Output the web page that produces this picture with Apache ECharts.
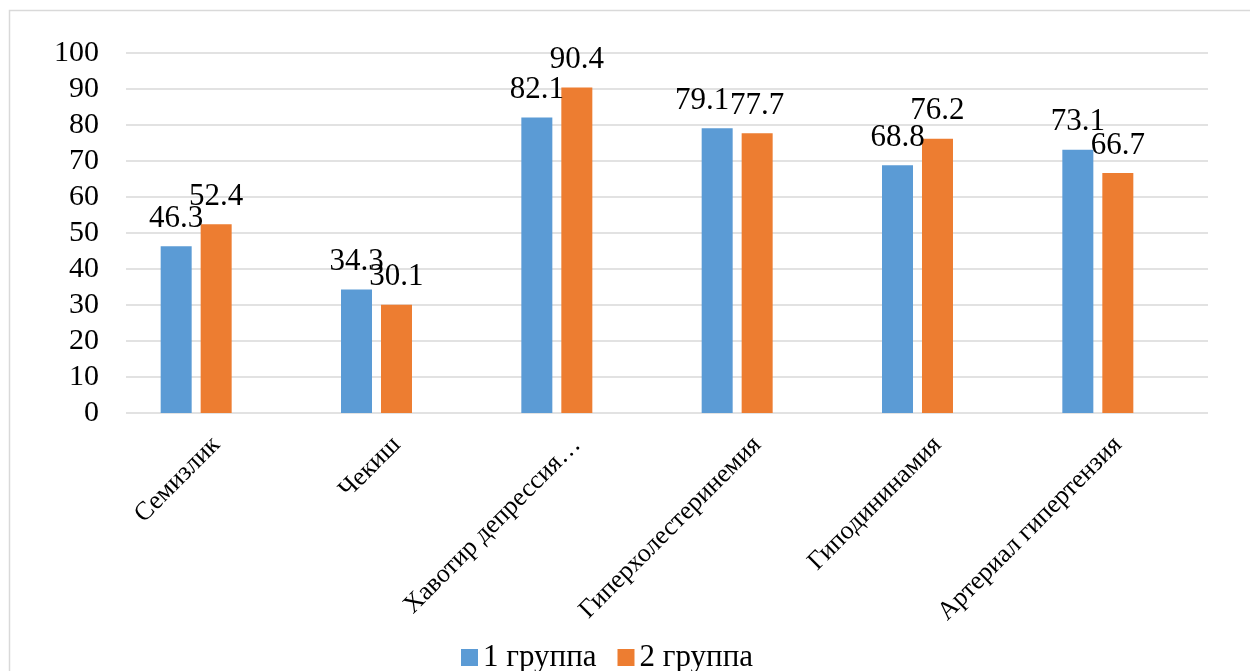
<!DOCTYPE html>
<html>
<head>
<meta charset="utf-8">
<script src="https://cdn.jsdelivr.net/npm/echarts@6/dist/echarts.min.js"></script>
<style>
  html, body { margin: 0; padding: 0; background: #fff; }
  #chart { width: 1250px; height: 671px; }
</style>
</head>
<body>
<div id="chart"></div>
<script>
// данные диаграммы
var categories = ['Семизлик', 'Чекиш', 'Хавотир депрессия…', 'Гиперхолестеринемия', 'Гиподининамия', 'Артериал гипертензия'];
var group1 = [46.3, 34.3, 82.1, 79.1, 68.8, 73.1];
var group2 = [52.4, 30.1, 90.4, 77.7, 76.2, 66.7];
var seriesNames = ['1 группа', '2 группа'];
var yTicks = { min: 0, max: 100, interval: 10 };

var FONT = '"Liberation Serif", "Times New Roman", serif';
var GRID_COLOR = '#D9D9D9';

var myChart = echarts.init(document.getElementById('chart'));

var labelStyle = {
    show: true,
    position: 'top',
    distance: 12,
    fontFamily: FONT,
    fontSize: 31,
    color: '#000'
};

// в исходнике подпись 79.1 сдвинута влево, чтобы не наезжать на 77.7
var group1Data = group1.map(function (v, i) {
    return i === 3 ? { value: v, label: { offset: [-15, 0] } } : v;
});

var option = {
    animation: false,
    backgroundColor: '#fff',
    graphic: [{
        type: 'rect',
        shape: { x: 9.5, y: 10.5, width: 1260, height: 700 },
        style: { fill: 'none', stroke: GRID_COLOR, lineWidth: 1.5 },
        silent: true
    }],
    legend: {
        data: seriesNames,
        left: 456,
        top: 637,
        itemWidth: 17,
        itemHeight: 17,
        itemGap: 21,
        icon: 'rect',
        textStyle: { fontFamily: FONT, fontSize: 31, color: '#000' }
    },
    grid: [
        // сетка и подписи осей
        { left: 126, right: 42, top: 53, bottom: 258 },
        // столбцы
        { left: 106, right: 62, top: 53, bottom: 258 }
    ],
    xAxis: [{
        type: 'category',
        gridIndex: 0,
        data: categories,
        axisLine: { show: false },
        axisTick: { show: false },
        axisLabel: {
            interval: 0,
            rotate: 45,
            margin: 28,
            fontFamily: FONT,
            fontSize: 26,
            color: '#000'
        }
    }, {
        type: 'category',
        gridIndex: 1,
        data: categories,
        show: false
    }],
    yAxis: [{
        type: 'value',
        gridIndex: 0,
        min: yTicks.min,
        max: yTicks.max,
        interval: yTicks.interval,
        axisLine: { show: false },
        axisTick: { show: false },
        axisLabel: { margin: 27, fontFamily: FONT, fontSize: 30, color: '#000' },
        splitLine: { lineStyle: { color: GRID_COLOR, width: 1.5 } }
    }, {
        type: 'value',
        gridIndex: 1,
        min: yTicks.min,
        max: yTicks.max,
        interval: yTicks.interval,
        show: false,
        splitLine: { show: false }
    }],
    series: [{
        name: seriesNames[0],
        type: 'bar',
        xAxisIndex: 1,
        yAxisIndex: 1,
        data: group1Data,
        barWidth: 31,
        barGap: '29%',
        itemStyle: { color: '#5B9BD5' },
        label: labelStyle
    }, {
        name: seriesNames[1],
        type: 'bar',
        xAxisIndex: 1,
        yAxisIndex: 1,
        data: group2,
        barWidth: 31,
        barGap: '29%',
        itemStyle: { color: '#ED7D31' },
        label: labelStyle
    }]
};

myChart.setOption(option);
window.addEventListener('resize', function () {
    myChart.resize();
});
</script>
</body>
</html>
